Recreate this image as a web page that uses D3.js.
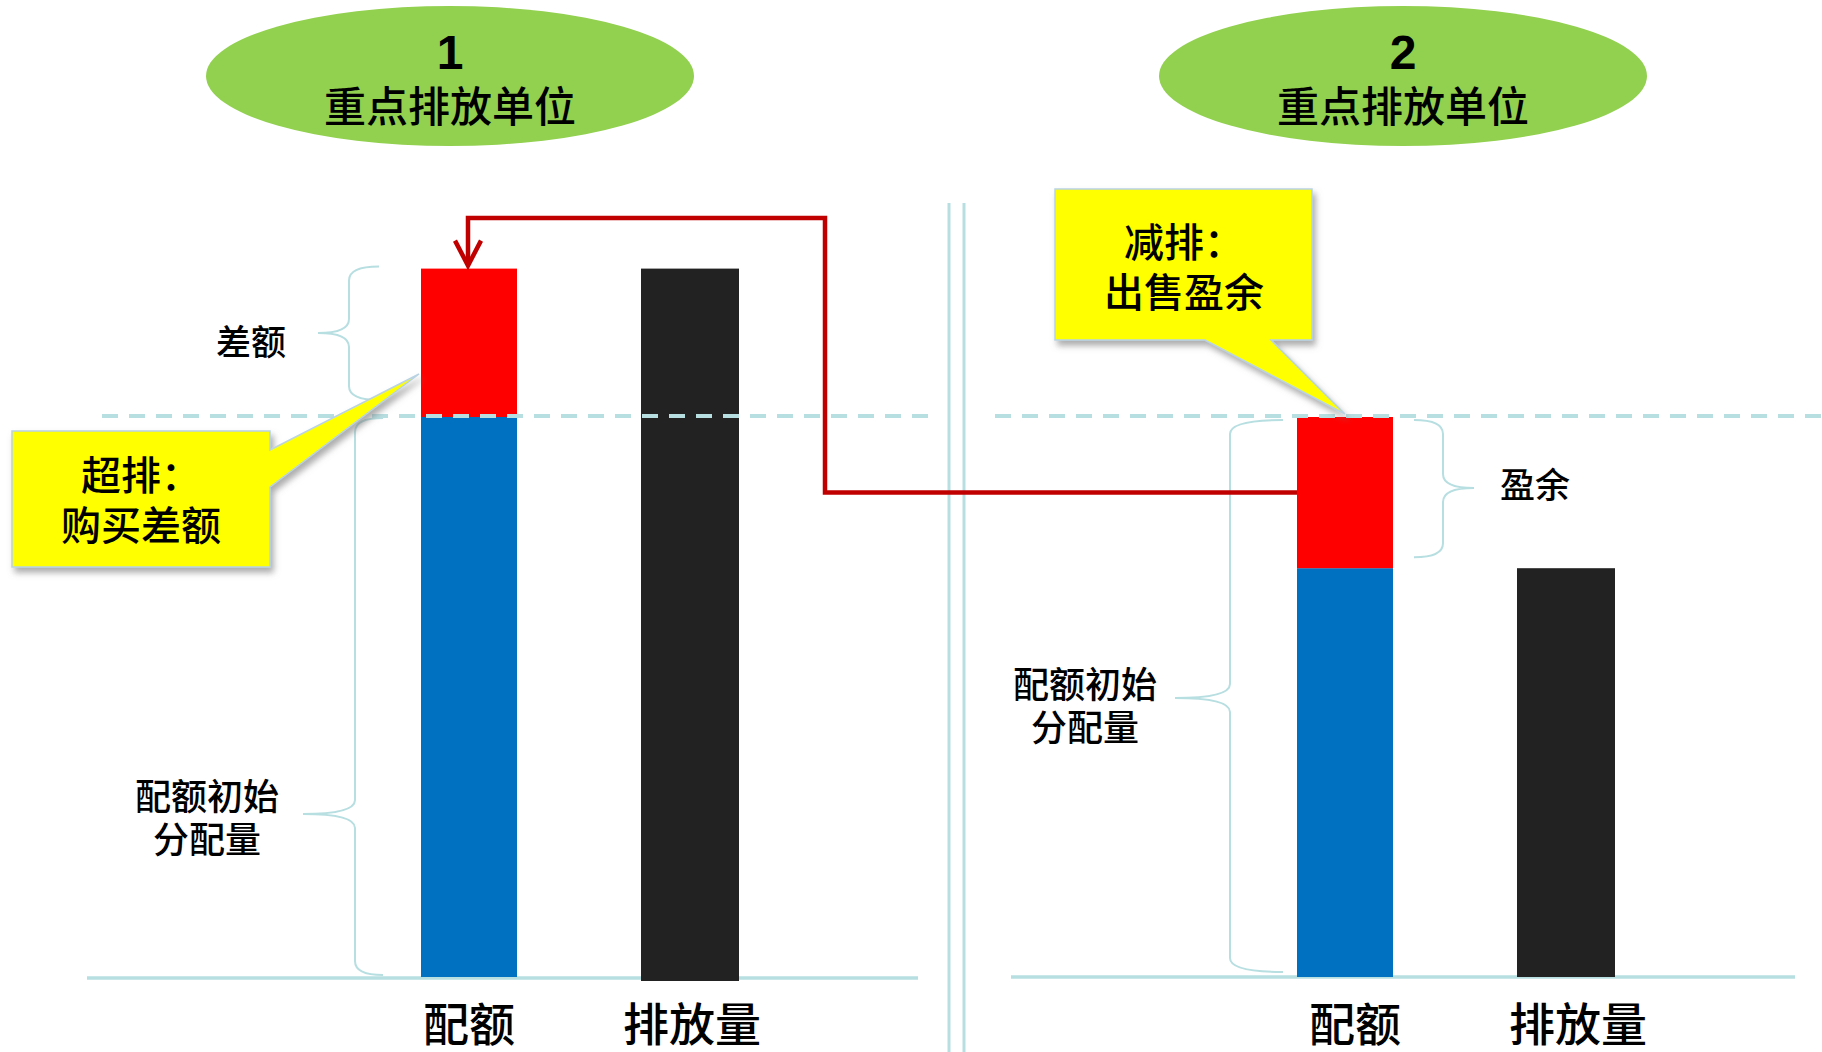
<!DOCTYPE html>
<html>
<head>
<meta charset="utf-8">
<script src="https://cdn.jsdelivr.net/npm/d3@7"></script>
<style>
  body { margin: 0; background: #fff; }
  text { font-family: "Noto Sans CJK SC", sans-serif; font-weight: 500; }
</style>
</head>
<body>
<div id="chart"></div>
<script>
// chart values
var unitNumbers = ["1", "2"];
var unitTitle = "重点排放单位";
var categories = ["配额", "排放量"];
var allocation = [100, 100];
var emissions = [126.5, 73];
var gapLabels = ["差额", "盈余"];
var baseLabel = ["配额初始", "分配量"];
var calloutLines = [["超排：", "购买差额"], ["减排：", "出售盈余"]];

var width = 1822;
var height = 1052;
var lineBlue = "#b7dee1";

var svg = d3.select("#chart").append("svg")
  .attr("width", width).attr("height", height);

var defs = svg.append("defs");
var shadow = defs.append("filter").attr("id", "shadow")
  .attr("x", "-10%").attr("y", "-10%").attr("width", "130%").attr("height", "140%");
shadow.append("feDropShadow")
  .attr("dx", 3).attr("dy", 5).attr("stdDeviation", 3)
  .attr("flood-color", "#777").attr("flood-opacity", 0.6);

// same vertical scale for both units
var y = d3.scaleLinear().domain([0, 100]).range([977, 417]);
var x = d3.scaleBand().domain(categories).range([421, 737]).paddingInner(0.5636);
var bw = x.bandwidth();
var panelShift = [0, 876];
var labelShift = [0, 10];

// title ellipses
var ellipseX = [450, 1403];
unitNumbers.forEach(function(n, i){
  var g = svg.append("g").attr("transform", "translate(" + ellipseX[i] + ",76)");
  g.append("ellipse").attr("rx", 244).attr("ry", 70).attr("fill", "#92d050");
  g.append("text").attr("y", -7).attr("text-anchor", "middle")
    .style("font-family", "'Liberation Sans', Arial, sans-serif").style("font-weight", "bold")
    .attr("font-size", 48).text(n);
  g.append("text").attr("y", 46).attr("text-anchor", "middle")
    .attr("font-size", 42).text(unitTitle);
});

// divider
[949, 964].forEach(function(dx){
  svg.append("line").attr("x1", dx).attr("x2", dx).attr("y1", 203).attr("y2", height)
    .attr("stroke", lineBlue).attr("stroke-width", 3);
});

// baselines
svg.append("line").attr("x1", 87).attr("x2", 918).attr("y1", y(0) + 1).attr("y2", y(0) + 1)
  .attr("stroke", lineBlue).attr("stroke-width", 3.5);
svg.append("line").attr("x1", 1011).attr("x2", 1795).attr("y1", y(0)).attr("y2", y(0))
  .attr("stroke", lineBlue).attr("stroke-width", 3.5);

// bars
unitNumbers.forEach(function(n, i){
  var g = svg.append("g").attr("transform", "translate(" + panelShift[i] + ",0)");
  var lo = Math.min(allocation[i], emissions[i]);
  var hi = Math.max(allocation[i], emissions[i]);
  // quota bar: blue part, red gap
  g.append("rect").attr("x", x("配额")).attr("width", bw)
    .attr("y", y(lo)).attr("height", y(0) - y(lo)).attr("fill", "#0070c0");
  g.append("rect").attr("x", x("配额")).attr("width", bw)
    .attr("y", y(hi)).attr("height", y(lo) - y(hi)).attr("fill", "#ff0000");
  // emissions bar
  g.append("rect").attr("x", x("排放量")).attr("width", bw + 2)
    .attr("y", y(emissions[i])).attr("height", y(0) - y(emissions[i]) + (i == 0 ? 4 : 0))
    .attr("fill", "#222222");
  // category labels
  g.selectAll(".cat").data(categories).enter().append("text")
    .attr("x", function(d){ return x(d) + bw / 2 + labelShift[i] + (d == "排放量" ? 3 : 0); })
    .attr("y", 1041).attr("text-anchor", "middle").attr("font-size", 46)
    .text(function(d){ return d; });
});

// dashed allocation line
[[102, 931], [995, 1822]].forEach(function(seg){
  svg.append("line").attr("x1", seg[0]).attr("x2", seg[1])
    .attr("y1", y(allocation[0]) - 1).attr("y2", y(allocation[1]) - 1)
    .attr("stroke", lineBlue).attr("stroke-width", 4).attr("stroke-dasharray", "16,11");
});

// curly brace
function brace(xs, y0, y1, yt, dir, curl, tip){
  var xe = xs - dir * curl, xt = xs + dir * tip, r = 14;
  return "M" + xe + "," + y0 + " Q" + xs + "," + y0 + " " + xs + "," + (y0 + r) +
    " L" + xs + "," + (yt - r) + " Q" + xs + "," + yt + " " + xt + "," + yt +
    " Q" + xs + "," + yt + " " + xs + "," + (yt + r) +
    " L" + xs + "," + (y1 - r) + " Q" + xs + "," + y1 + " " + xe + "," + y1;
}
var braces = [
  brace(349, y(emissions[0]) - 2, y(allocation[0]) - 17, 333, -1, 30, 31),
  brace(355, y(allocation[0]) + 1, y(0) - 2, 814, -1, 28, 52),
  brace(1230, y(allocation[1]) + 3, y(0) - 5, 698, -1, 53, 55),
  brace(1443, y(allocation[1]) + 3, y(emissions[1]) - 11, 488, 1, 29, 31)
];
svg.selectAll(".brace").data(braces).enter().append("path")
  .attr("d", function(d){ return d; })
  .attr("fill", "none").attr("stroke", lineBlue).attr("stroke-width", 2);

// brace labels
svg.append("text").attr("x", 251).attr("y", 355).attr("text-anchor", "middle")
  .attr("font-size", 35).text(gapLabels[0]);
svg.append("text").attr("x", 1535).attr("y", 498).attr("text-anchor", "middle")
  .attr("font-size", 35).text(gapLabels[1]);
[[207, 810], [1085, 698]].forEach(function(p){
  svg.selectAll(null).data(baseLabel).enter().append("text")
    .attr("x", p[0]).attr("y", function(d, j){ return p[1] + j * 43; })
    .attr("text-anchor", "middle").attr("font-size", 36)
    .text(function(d){ return d; });
});

// connector: surplus sold from unit 2 to unit 1
var cy = y((allocation[1] + emissions[1]) / 2);
var ax = x("配额") + bw / 2 - 1;
var tipY = y(emissions[0]) - 3;
var conn = d3.line()([[panelShift[1] + x("配额"), cy], [825, cy], [825, 218], [ax, 218], [ax, tipY - 2]]);
svg.append("path").attr("d", conn).attr("fill", "none")
  .attr("stroke", "#c00000").attr("stroke-width", 4.5);
svg.append("path").attr("d", d3.line()([[ax - 13, tipY - 25], [ax, tipY], [ax + 13, tipY - 25]]))
  .attr("fill", "none").attr("stroke", "#c00000").attr("stroke-width", 4.5);

// callouts
var lx = x("配额") - 2;
var callouts = [
  { path: "M12,431 H270 V450 L" + lx + "," + (y(allocation[0]) - 43) + " L270,487 V567 H12 Z",
    cx: 141, ty: 490 },
  { path: "M1055,189 H1312 V340 H1271 L" + (panelShift[1] + x("配额") + bw / 2) + "," + (y(allocation[1]) - 3) + " L1205,340 H1055 Z",
    cx: 1184, ty: 257 }
];
callouts.forEach(function(c, i){
  svg.append("path").attr("d", c.path).attr("fill", "#ffff00")
    .attr("stroke", "#b9d3e3").attr("stroke-width", 1.5).attr("filter", "url(#shadow)");
  svg.selectAll(null).data(calloutLines[i]).enter().append("text")
    .attr("x", c.cx).attr("y", function(d, j){ return c.ty + j * 50; })
    .attr("text-anchor", "middle").attr("font-size", 40)
    .text(function(d){ return d; });
});
</script>
</body>
</html>
